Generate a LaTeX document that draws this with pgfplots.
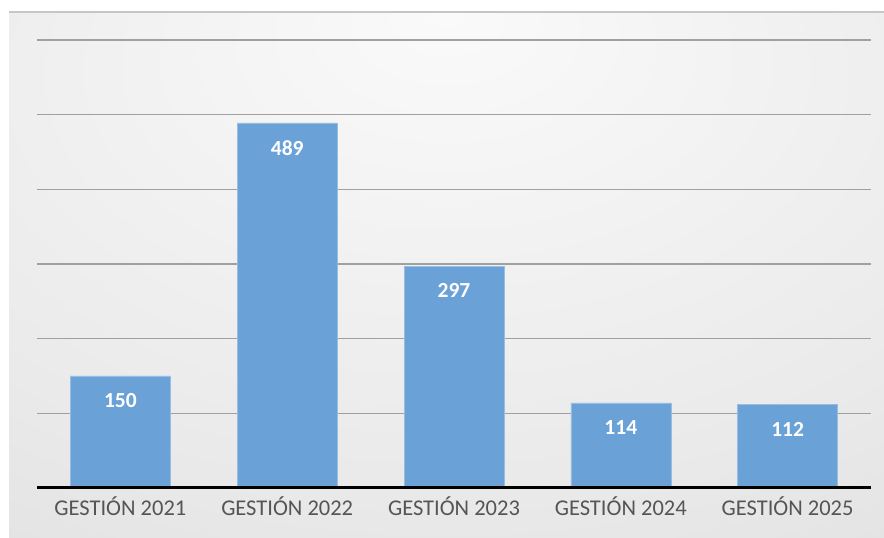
\documentclass[border=0pt]{standalone}
\usepackage{pgfplots}
\pgfplotsset{compat=1.18}
\usepackage{fontspec}
\setmainfont{Carlito}

\definecolor{barblue}{RGB}{106,161,214}
\definecolor{gridgray}{RGB}{160,160,160}
\definecolor{baseline}{RGB}{60,60,60}
\definecolor{labelgray}{RGB}{85,85,85}
\definecolor{bgin}{RGB}{250,250,250}
\definecolor{bgmid}{RGB}{234,234,234}
\definecolor{bgout}{RGB}{200,200,200}

\pgfdeclareradialshading{panel}{\pgfpoint{0bp}{25bp}}{%
  color(0bp)=(bgin); color(35bp)=(bgmid); color(95bp)=(bgout)}

\begin{document}
\begin{tikzpicture}[x=1pt,y=1pt]
\path[use as bounding box] (0,0) rectangle (884,538);
\fill[white] (0,0) rectangle (884,538);
\shade[shading=panel] (9,0) rectangle (884,526);
\draw[gray!45, line width=1.2pt] (9,526) -- (884,526);

\begin{axis}[
  at={(37pt,50pt)}, anchor=south west,
  scale only axis,
  width=834pt, height=448pt,
  xmin=-0.5, xmax=4.5,
  ymin=0, ymax=600,
  axis line style={draw=none},
  major tick length=0pt,
  ytick={100,200,300,400,500,600},
  yticklabels={},
  ymajorgrids=true,
  grid style={gridgray, line width=1.6pt},
  xtick=data,
  xticklabels={GESTIÓN 2021, GESTIÓN 2022, GESTIÓN 2023, GESTIÓN 2024, GESTIÓN 2025},
  xticklabel style={font=\fontsize{22.5}{26}\selectfont, text=labelgray, yshift=-5pt},
  /pgf/number format/assume math mode=true,
  ybar, bar width=100pt,
  nodes near coords,
  every node near coord/.append style={font=\bfseries\fontsize{21.5}{25}\selectfont, text=white, anchor=north, yshift=-14pt},
  clip=false,
]
\addplot[fill=barblue, draw=barblue!70!white, line width=0.6pt]
  coordinates {(0,150) (1,489) (2,297) (3,114) (4,112)};
\draw[baseline, line width=3pt] (axis cs:-0.5,0) -- (axis cs:4.5,0);
\end{axis}
\end{tikzpicture}
\end{document}
